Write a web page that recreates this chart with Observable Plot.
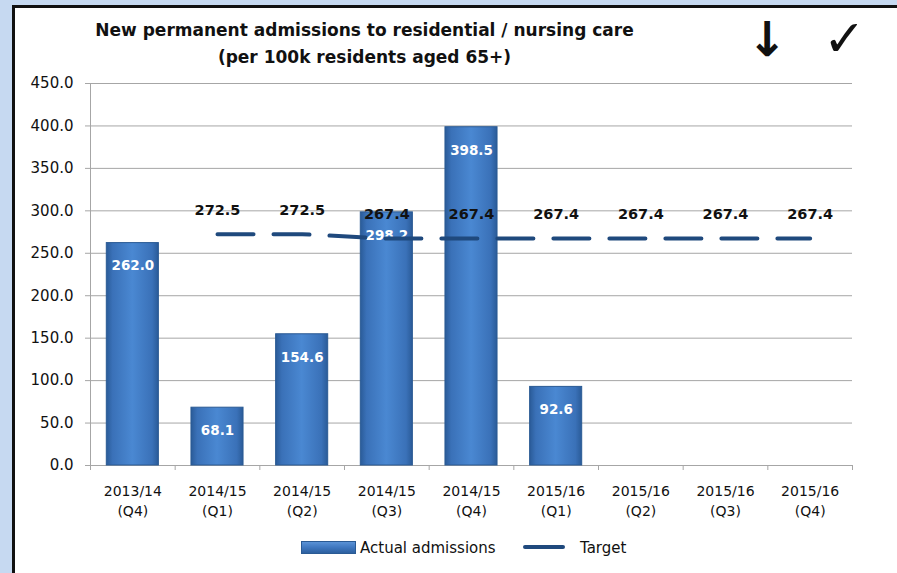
<!DOCTYPE html>
<html>
<head>
<meta charset="utf-8">
<script src="https://cdn.jsdelivr.net/npm/d3@7"></script>
<script src="https://cdn.jsdelivr.net/npm/@observablehq/plot@0.6"></script>
<style>
  html, body { margin: 0; padding: 0; }
  body { width: 897px; height: 573px; overflow: hidden; background: #c6d9f1; position: relative; font-family: "DejaVu Sans", sans-serif; }
  #frame { position: absolute; left: 12px; top: 5px; width: 900px; height: 600px; background: #fff; border-left: 3px solid #111; border-top: 3px solid #111; }
  #chart { position: absolute; left: 0; top: 0; }
  .title { position: absolute; left: 0; width: 729px; text-align: center; font-weight: bold; font-size: 17px; color: #111; white-space: nowrap; }
  .sym { position: absolute; color: #111; line-height: 1; }
  .legend { position: absolute; top: 539px; font-size: 15px; color: #111; white-space: nowrap; }
</style>
</head>
<body>
<div id="frame"></div>
<div id="chart"></div>
<div class="title" style="top:20px">New permanent admissions to residential / nursing care</div>
<div class="title" style="top:47px">(per 100k residents aged 65+)</div>
<div class="sym" style="left:747px; top:15px; font-size:48px; font-weight:bold">↓</div>
<div class="sym" style="left:823px; top:13px; font-size:51px">✓</div>
<div class="legend" style="left:301px"><span style="display:inline-block;width:53px;height:11px;vertical-align:-1px;margin-right:4px;border:1px solid #2a5a94;background:linear-gradient(180deg,#5a92d6 0%,#3f77bf 50%,#2d609f 100%)"></span>Actual admissions</div>
<div class="legend" style="left:523px"><span style="display:inline-block;width:42px;height:4px;border-radius:2px;vertical-align:4px;margin-right:15px;background:#1f497d"></span>Target</div>
<script>
const categories = ["2013/14\n(Q4)", "2014/15\n(Q1)", "2014/15\n(Q2)", "2014/15\n(Q3)", "2014/15\n(Q4)", "2015/16\n(Q1)", "2015/16\n(Q2)", "2015/16\n(Q3)", "2015/16\n(Q4)"];
const actual = [262.0, 68.1, 154.6, 298.2, 398.5, 92.6, null, null, null];
const target = [null, 272.5, 272.5, 267.4, 267.4, 267.4, 267.4, 267.4, 267.4];
const yTicks = [0, 50, 100, 150, 200, 250, 300, 350, 400, 450];

const rows = categories.map((c, i) => ({cat: c, actual: actual[i], target: target[i]}));
const bars = rows.filter(d => d.actual != null);
const targets = rows.filter(d => d.target != null);

const W = 897, H = 573, mL = 90, mR = 45, mT = 83, mB = 108;
const step = (W - mL - mR) / categories.length;

const defs = () => {
  const d = d3.create("svg:defs");
  const g = d.append("linearGradient").attr("id", "barGrad").attr("x1", 0).attr("x2", 1).attr("y1", 0).attr("y2", 0);
  [[0, "#2a5b98"], [0.12, "#3a71b8"], [0.5, "#4a88d2"], [0.88, "#3a71b8"], [1, "#2a5b98"]]
    .forEach(([o, c]) => g.append("stop").attr("offset", o).attr("stop-color", c));
  return d.node();
};

const chart = Plot.plot({
  width: W, height: H,
  marginLeft: mL, marginRight: mR, marginTop: mT, marginBottom: mB,
  style: {background: "transparent", fontFamily: "DejaVu Sans, sans-serif", color: "#111"},
  x: {domain: categories, paddingInner: 0.385, paddingOuter: 0.1925, round: false, label: null},
  y: {domain: [0, 450], label: null},
  marks: [
    defs,
    Plot.gridY(yTicks, {stroke: "#a6a6a6", strokeOpacity: 1, strokeWidth: 1}),
    Plot.ruleX([categories[0]], {x: d => d, dx: -step / 2, stroke: "#a6a6a6", insetBottom: -5}),
    Plot.ruleX(categories, {x: d => d, dx: -step / 2, y1: () => 0, y2: () => 0, insetBottom: -5, stroke: "#a6a6a6"}),
    Plot.ruleX([categories[categories.length - 1]], {x: d => d, dx: step / 2, y1: () => 0, y2: () => 0, insetBottom: -5, stroke: "#a6a6a6"}),
    Plot.ruleY([0], {stroke: "#a6a6a6"}),
    Plot.axisY(yTicks, {tickFormat: d => d.toFixed(1), tickSize: 5, tickPadding: 12, fontSize: 15, stroke: "#a6a6a6", fill: "#111"}),
    Plot.axisX({tickSize: 0, tickPadding: 17, fontSize: 14, lineHeight: 1.4, fill: "#111"}),
    Plot.barY(bars, {x: "cat", y: "actual", fill: "url(#barGrad)", stroke: "#2a5a94", strokeWidth: 1}),
    Plot.text(bars, {x: "cat", y: "actual", text: d => d.actual.toFixed(1), dy: 23, fill: "#fff", fontWeight: "bold", fontSize: 13.5}),
    Plot.lineY(targets, {x: "cat", y: "target", stroke: "#1f497d", strokeWidth: 4, strokeDasharray: "36,20", strokeLinecap: "round"}),
    Plot.text(targets, {x: "cat", y: "target", text: d => d.target.toFixed(1), dy: -24, fill: "#111", fontWeight: "bold", fontSize: 14.5})
  ]
});
document.getElementById("chart").appendChild(chart);
</script>
</body>
</html>
